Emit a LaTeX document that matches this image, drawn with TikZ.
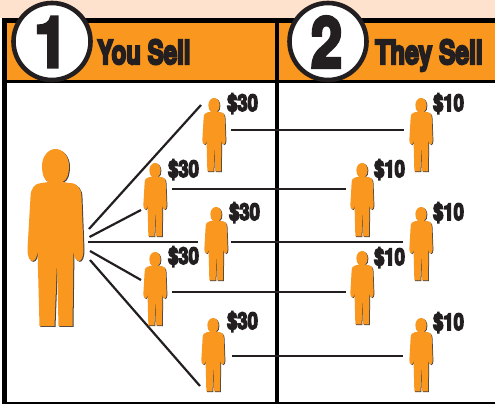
\documentclass[tikz,border=0pt]{standalone}
\usepackage{graphicx}
\usepackage{fontspec}
\newfontfamily\heavyfont[UprightFont=* Bold, FakeBold=5]{TeX Gyre Heros}
\newfontfamily\blackfont[UprightFont=* Bold, FakeBold=7]{TeX Gyre Heros}
\definecolor{peach}{HTML}{FEE2CD}
\definecolor{orng}{HTML}{F9971F}
\definecolor{ink}{HTML}{231F20}
\newcommand{\personoutline}{
  (-7,33) .. controls (-12,31) and (-13.5,24) .. (-13.5,17)
  .. controls (-13.5,7) and (-7,0) .. (0,0)
  .. controls (7,0) and (13.5,7) .. (13.5,17)
  .. controls (13.5,24) and (12,31) .. (7,33)
  -- (14,34) .. controls (22,34) and (26,40) .. (26,48)
  -- (28,100) .. controls (28,108) and (26,112) .. (23.5,112)
  .. controls (20,112) and (18,107) .. (18,101)
  -- (17,177) -- (3,177) -- (1.5,113) -- (-1,177) -- (-16,177) -- (-18,101)
  .. controls (-18,107) and (-20,112) .. (-23,112)
  .. controls (-26,112) and (-28,108) .. (-28,100)
  -- (-25,48) .. controls (-25,40) and (-21,34) .. (-14,34) -- cycle
}
\tikzset{
  x=1pt, y=-1pt,
  bar/.style={fill=black, draw=none},
  link/.style={draw=ink, line width=2.2pt},
  badge/.style={circle, draw=ink, line width=4.6pt, fill=white, minimum size=77pt, inner sep=0pt},
  digit/.style={inner sep=0pt, text=ink, font=\heavyfont\fontsize{70}{70}\selectfont},
  headline/.style={anchor=base west, inner sep=0pt, text=ink, font=\blackfont\fontsize{33}{33}\selectfont},
  price/.style={anchor=base west, inner sep=0pt, text=ink, font=\blackfont\fontsize{23}{23}\selectfont},
  person/.pic={
    \fill[ink!85!white] [shift={(1.8,1.4)}] \personoutline;
    \fill[orng] \personoutline;
  },
  bigperson/.pic={
    \fill[ink!85!white] [shift={(1,0.8)}] \personoutline;
    \fill[orng] \personoutline;
  }
}
\begin{document}
\begin{tikzpicture}
\useasboundingbox (0,0) rectangle (495,404);
\fill[white] (0,0) rectangle (495,404);
\fill[peach] (0,0) rectangle (495,18.5);
\fill[orng] (7,23) rectangle (495,80);
\fill[bar] (2,18.5) rectangle (495,23);
\fill[bar] (2,80) rectangle (495,83);
\fill[bar] (2,18.5) rectangle (7,404);
\fill[bar] (275,18.5) rectangle (279,404);
\fill[bar] (2,401.5) rectangle (495,404);

\node[badge] (badgeA) at (52,41.5) {};
\node[badge] (badgeB) at (328,41.5) {};
\node[digit] (numA) at (51,42) {\scalebox{.86}[1]{1}};
\node[digit] (numB) at (326.5,42) {\scalebox{.8}[1]{2}};
\node[headline] (titleA) at (97,64) {\scalebox{.73}[1]{You Sell}};
\node[headline] (titleB) at (375,64) {\scalebox{.745}[1]{They Sell}};

\coordinate (h1) at (89,229); \coordinate (e1) at (201,105);
\coordinate (h2) at (89.5,237); \coordinate (e2) at (141,210);
\coordinate (h3) at (88,242); \coordinate (e3) at (198,242);
\coordinate (h4) at (90,251); \coordinate (e4) at (141,280);
\coordinate (h5) at (90,260); \coordinate (e5) at (200,386);
\coordinate (a1) at (231,130); \coordinate (b1) at (404,130);
\coordinate (a2) at (172,189); \coordinate (b2) at (346,189);
\coordinate (a3) at (231,242); \coordinate (b3) at (403,242);
\coordinate (a4) at (172,292); \coordinate (b4) at (346,292);
\coordinate (a5) at (232,356); \coordinate (b5) at (403,356);
\foreach \i in {1,...,5} {
  \draw[link] (h\i) -- (e\i);
  \draw[link] (a\i) -- (b\i);
}

\pic at (55.5,149) {bigperson};
\foreach \px/\py in {214/98,155/163,216/207,155/252,213/318,421/98,362/163,421/207,362/251,421/318}
  \pic[scale=.415] at (\px,\py) {person};

\node[price] (p1) at (227,111) {\scalebox{.8}[1]{\$30}};
\node[price] (p2) at (168,177) {\scalebox{.8}[1]{\$30}};
\node[price] (p3) at (229,220) {\scalebox{.8}[1]{\$30}};
\node[price] (p4) at (168,264) {\scalebox{.8}[1]{\$30}};
\node[price] (p5) at (227,329) {\scalebox{.8}[1]{\$30}};
\node[price] (q1) at (433,111) {\scalebox{.8}[1]{\$10}};
\node[price] (q2) at (374,177) {\scalebox{.8}[1]{\$10}};
\node[price] (q3) at (433,220) {\scalebox{.8}[1]{\$10}};
\node[price] (q4) at (374,265) {\scalebox{.8}[1]{\$10}};
\node[price] (q5) at (433,330) {\scalebox{.8}[1]{\$10}};
\end{tikzpicture}
\end{document}
